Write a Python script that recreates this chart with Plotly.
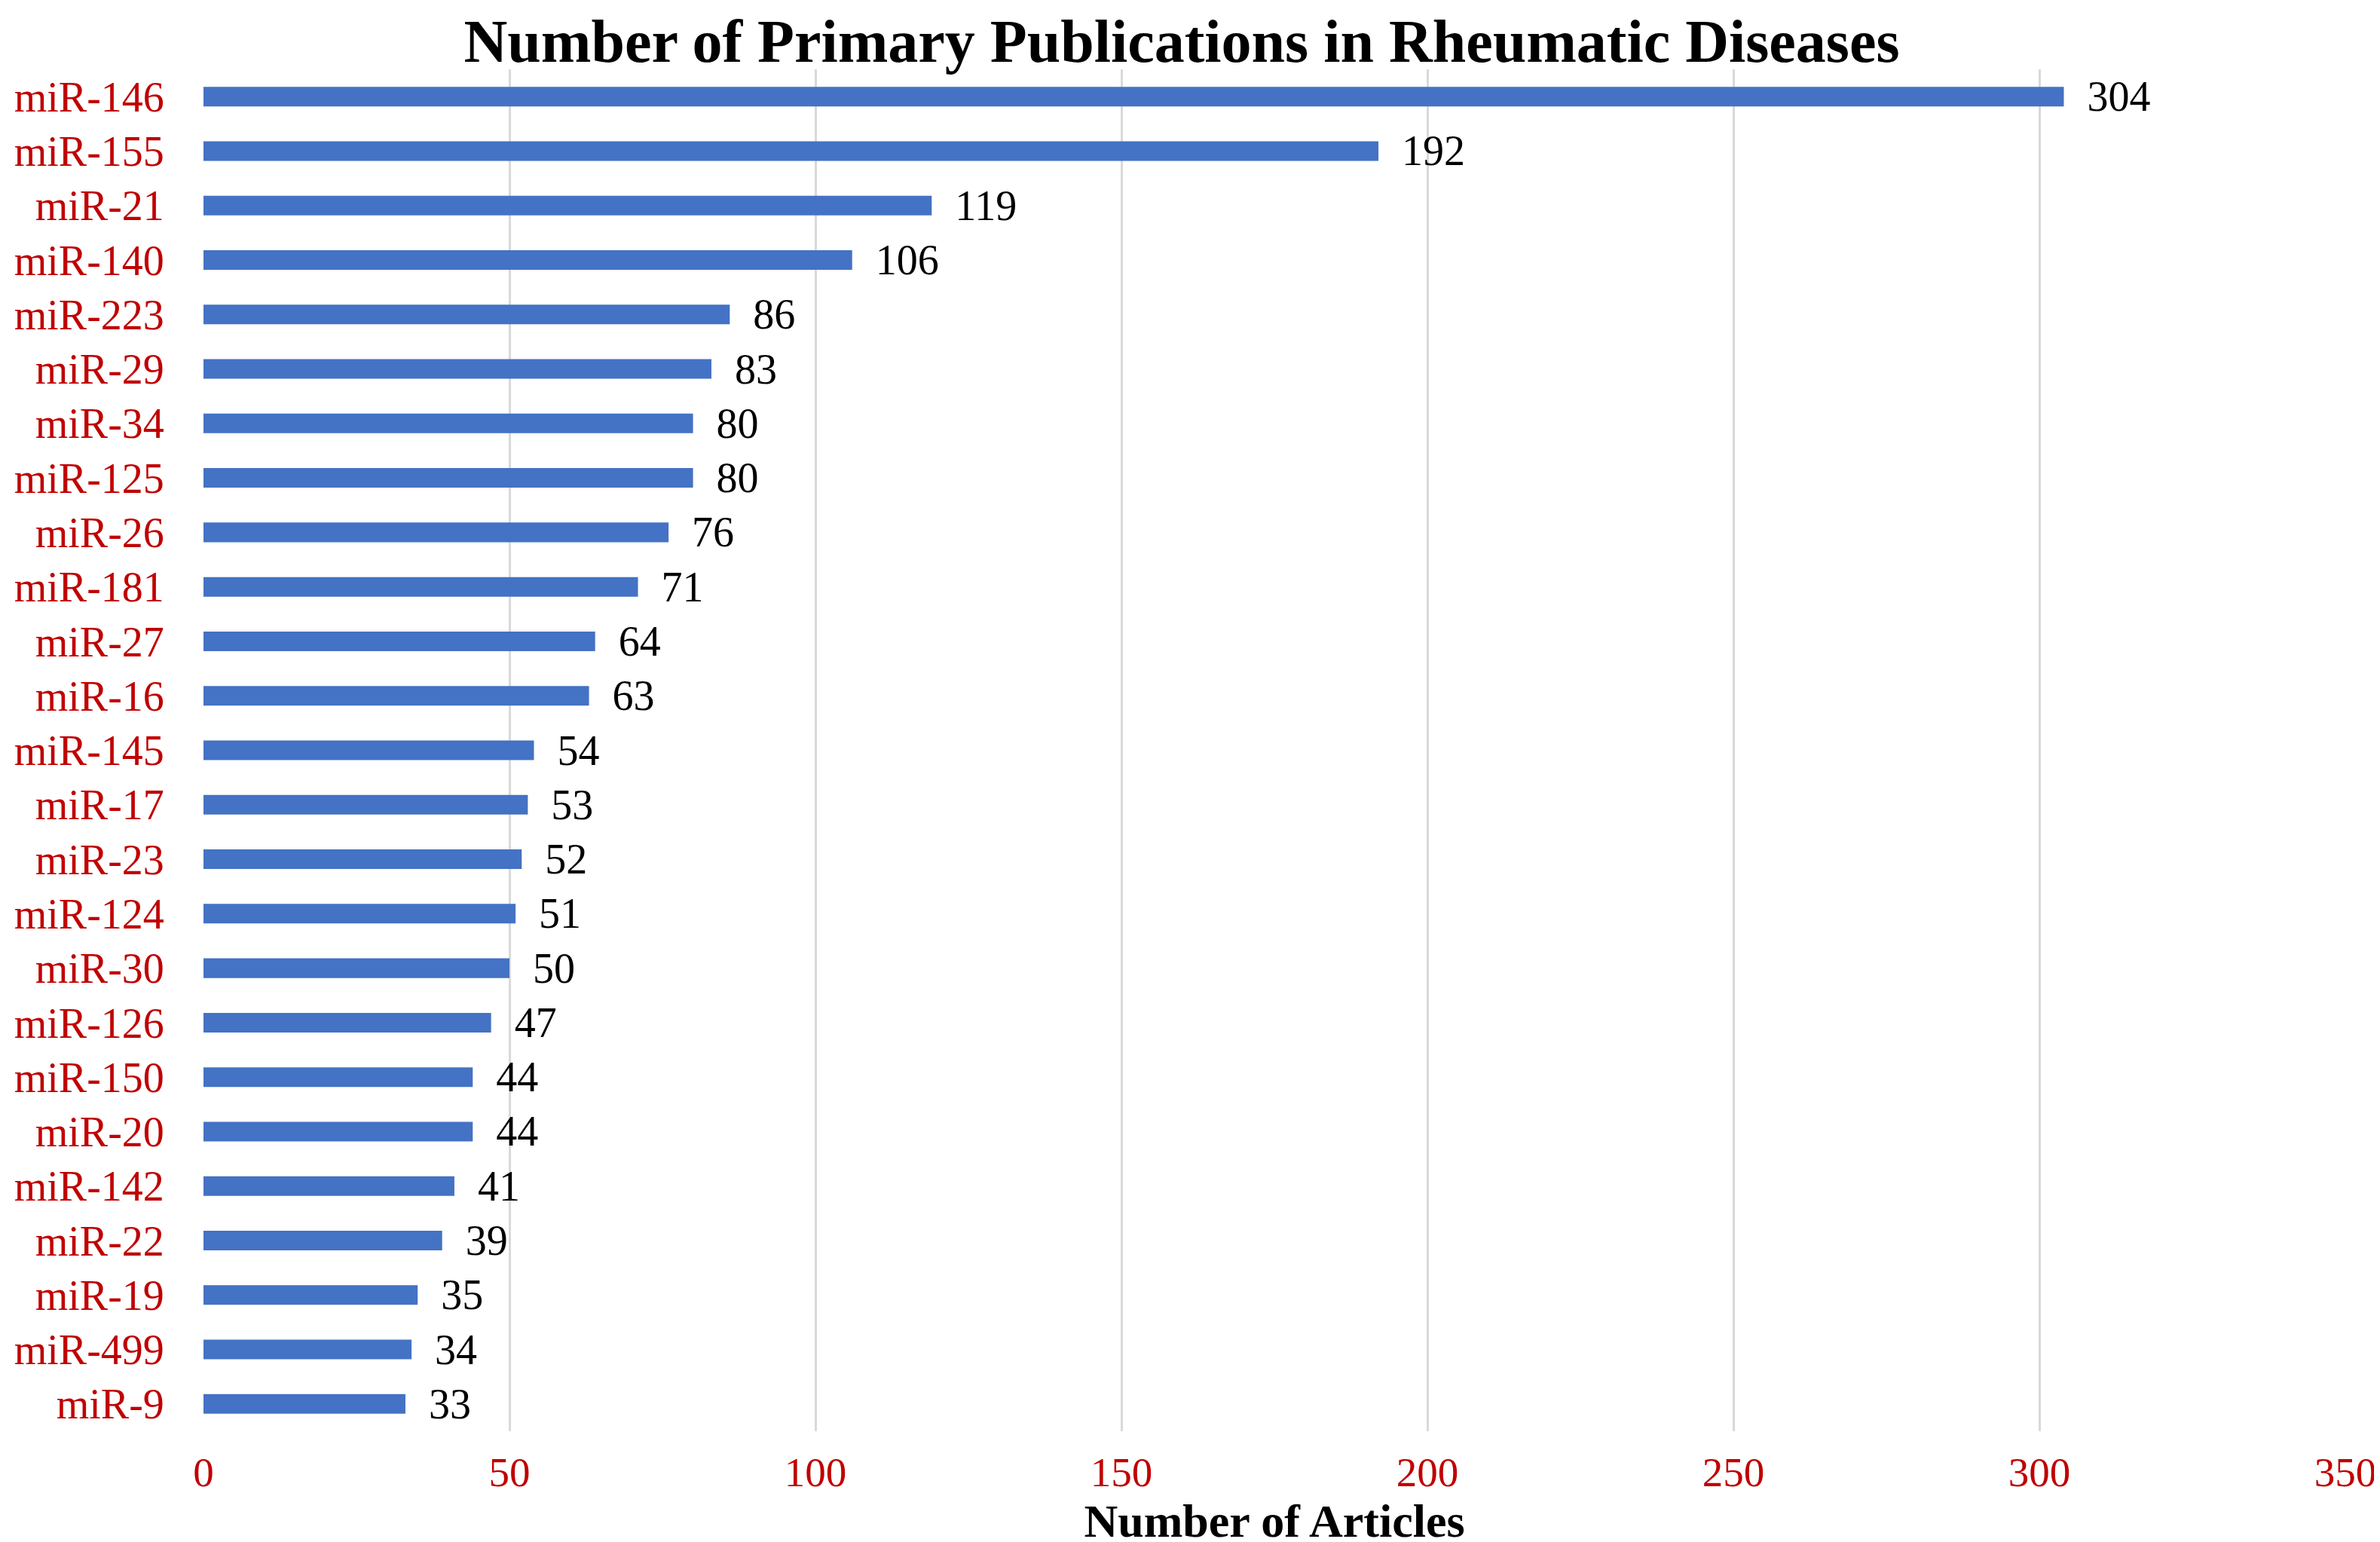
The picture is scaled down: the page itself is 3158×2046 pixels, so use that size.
import plotly.graph_objects as go

# miRNAs, top to bottom as in the figure
mirnas = ["miR-146", "miR-155", "miR-21", "miR-140", "miR-223", "miR-29", "miR-34",
          "miR-125", "miR-26", "miR-181", "miR-27", "miR-16", "miR-145", "miR-17",
          "miR-23", "miR-124", "miR-30", "miR-126", "miR-150", "miR-20", "miR-142",
          "miR-22", "miR-19", "miR-499", "miR-9"]
articles = [304, 192, 119, 106, 86, 83, 80, 80, 76, 71, 64, 63, 54, 53, 52, 51,
            50, 47, 44, 44, 41, 39, 35, 34, 33]
x_ticks = [0, 50, 100, 150, 200, 250, 300, 350]

serif = "Liberation Serif, Times New Roman, serif"
red = "#C00000"

fig = go.Figure()

fig.add_trace(go.Bar(
    x=articles,
    y=mirnas,
    orientation="h",
    marker=dict(color="#4472C4", line=dict(width=0)),
    text=articles,
    texttemplate="\u00a0\u00a0%{x}",
    textposition="outside",
    constraintext="none",
    cliponaxis=False,
    textfont=dict(family=serif, size=56, color="black"),
))

fig.update_layout(
    width=3158,
    height=2046,
    margin=dict(l=262, r=54, t=84, b=155),
    paper_bgcolor="white",
    plot_bgcolor="white",
    showlegend=False,
    bargap=0.64,
    title=dict(
        text="<b>Number of Primary Publications in Rheumatic Diseases</b>",
        font=dict(family=serif, size=80, color="black"),
        x=0.494, xanchor="center",
        y=1 - 46 / 2046, yanchor="middle", yref="container",
    ),
    xaxis=dict(
        range=[0, 350],
        tickvals=x_ticks,
        showgrid=True,
        gridcolor="#D9D9D9",
        gridwidth=3,
        zeroline=False,
        showline=False,
        ticks="outside",
        ticklen=6,
        tickcolor="rgba(0,0,0,0)",
        tickfont=dict(family=serif, size=55, color=red),
        title=dict(text="<b>Number of Articles</b>",
                   font=dict(family=serif, size=62, color="black"),
                   standoff=2),
    ),
    yaxis=dict(
        categoryorder="array",
        categoryarray=mirnas,
        autorange="reversed",
        showgrid=False,
        showline=False,
        zeroline=False,
        ticks="outside",
        ticklen=40,
        tickcolor="rgba(0,0,0,0)",
        tickfont=dict(family=serif, size=56, color=red),
    ),
)

fig.write_html("out.html")
